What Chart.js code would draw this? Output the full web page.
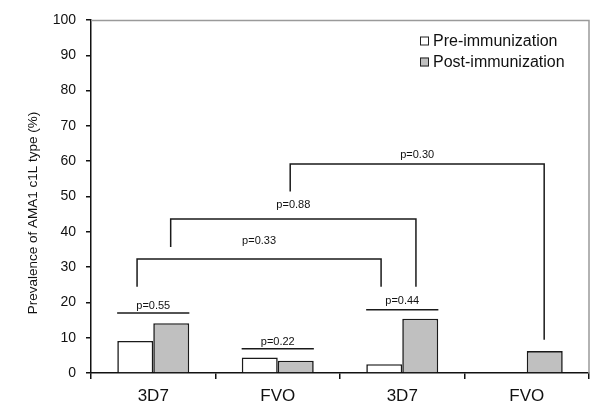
<!DOCTYPE html>
<html>
<head>
<meta charset="utf-8">
<script src="https://cdn.jsdelivr.net/npm/chart.js@4/dist/chart.umd.min.js"></script>
<style>
html,body{margin:0;padding:0;background:#fff;}
#wrap{width:600px;height:418px;position:relative;}
</style>
</head>
<body>
<div id="wrap"><canvas id="c" width="600" height="418"></canvas></div>
<script>
// ---- data ----
const categories = ["3D7", "FVO", "3D7", "FVO"];
const seriesNames = ["Pre-immunization", "Post-immunization"];
const preValues = [9.1, 4.4, 2.5, 0];
const postValues = [14.1, 3.5, 15.4, 6.2];
const yTicks = [0, 10, 20, 30, 40, 50, 60, 70, 80, 90, 100];
const yTitle = "Prevalence of AMA1 c1L type (%)";
// significance brackets: label, left/right category position, bar level, drop ends, label level
const pLabels  = ["p=0.55", "p=0.22", "p=0.44", "p=0.33", "p=0.88", "p=0.30"];
const pX1      = [-0.29, 0.71, 1.71, -0.13, 0.14, 1.10];
const pX2      = [0.29, 1.29, 2.29, 1.83, 2.11, 3.14];
const pLevel   = [17.0, 6.9, 17.9, 32.3, 43.6, 59.2];
const pLeftEnd = [null, null, null, 24.4, 35.7, 51.4];
const pRightEnd= [null, null, null, 24.4, 24.4, 9.4];
const pTextAt  = [19.0, 8.9, 20.5, 37.4, 47.6, 61.8];

const FONT = "'Liberation Sans', Arial, Helvetica, sans-serif";

const overlay = {
  id: 'overlay',
  afterDraw(chart) {
    const ctx = chart.ctx, xs = chart.scales.x, ys = chart.scales.y, a = chart.chartArea;
    ctx.save();
    // gray frame top / right
    ctx.strokeStyle = '#9a9a9a';
    ctx.lineWidth = 1.5;
    ctx.beginPath();
    ctx.moveTo(a.left, a.top + 0.5);
    ctx.lineTo(a.right, a.top + 0.5);
    ctx.lineTo(a.right, a.bottom);
    ctx.stroke();
    // brackets
    ctx.strokeStyle = '#1a1a1a';
    ctx.lineWidth = 1.5;
    ctx.fillStyle = '#111';
    ctx.font = '11px ' + FONT;
    ctx.textAlign = 'center';
    ctx.textBaseline = 'middle';
    for (let i = 0; i < pLabels.length; i++) {
      const x1 = xs.getPixelForValue(pX1[i]);
      const x2 = xs.getPixelForValue(pX2[i]);
      const y = ys.getPixelForValue(pLevel[i]);
      ctx.beginPath();
      if (pLeftEnd[i] !== null) {
        ctx.moveTo(x1, ys.getPixelForValue(pLeftEnd[i]));
        ctx.lineTo(x1, y);
      } else ctx.moveTo(x1, y);
      ctx.lineTo(x2, y);
      if (pRightEnd[i] !== null) ctx.lineTo(x2, ys.getPixelForValue(pRightEnd[i]));
      ctx.stroke();
      ctx.fillText(pLabels[i], (x1 + x2) / 2, ys.getPixelForValue(pTextAt[i]));
    }
    // legend
    ctx.font = '16px ' + FONT;
    ctx.textAlign = 'left';
    const lx = 420, ly = [41, 62];
    chart.data.datasets.forEach((ds, i) => {
      ctx.fillStyle = ds.backgroundColor;
      ctx.fillRect(lx, ly[i] - 4.5, 9, 9);
      ctx.strokeStyle = '#222';
      ctx.lineWidth = 1;
      ctx.strokeRect(lx + 0.5, ly[i] - 4, 8, 8);
      ctx.fillStyle = '#111';
      ctx.fillText(ds.label, lx + 13, ly[i] + 1);
    });
    // y title
    ctx.save();
    ctx.translate(33, 213);
    ctx.rotate(-Math.PI / 2);
    ctx.textAlign = 'center';
    ctx.font = '13.5px ' + FONT;
    ctx.fillStyle = '#111';
    ctx.fillText(yTitle, 0, 0);
    ctx.restore();
    ctx.restore();
  }
};

new Chart(document.getElementById('c'), {
  type: 'bar',
  data: {
    labels: categories,
    datasets: [
      { label: seriesNames[0], data: preValues, backgroundColor: '#ffffff', borderColor: '#1a1a1a', borderWidth: 1.6, borderSkipped: 'start' },
      { label: seriesNames[1], data: postValues, backgroundColor: '#c0c0c0', borderColor: '#1a1a1a', borderWidth: 1.6, borderSkipped: 'start' }
    ]
  },
  options: {
    responsive: false,
    animation: false,
    devicePixelRatio: 1,
    layout: { padding: { top: 20, right: 11, left: 0, bottom: 0 } },
    categoryPercentage: 0.578,
    barPercentage: 1.0,
    plugins: { legend: { display: false }, tooltip: { enabled: false } },
    scales: {
      x: {
        offset: true,
        grid: { offset: true, drawOnChartArea: false, drawTicks: true, tickLength: 6, color: '#111', lineWidth: 1.5 },
        border: { display: true, color: '#111', width: 1.5 },
        ticks: { font: { size: 17, family: FONT }, color: '#111', padding: 7 },
        afterFit(s) { s.height = 45; }
      },
      y: {
        min: 0, max: 100,
        afterBuildTicks(s) { s.ticks = yTicks.map(v => ({ value: v })); },
        grid: { drawOnChartArea: false, drawTicks: true, tickLength: 5, color: '#111', lineWidth: 1.5 },
        border: { display: true, color: '#111', width: 1.5 },
        ticks: { font: { size: 14, family: FONT }, color: '#111', padding: 10 },
        afterFit(s) { s.width = 91; }
      }
    }
  },
  plugins: [overlay]
});
</script>
</body>
</html>
